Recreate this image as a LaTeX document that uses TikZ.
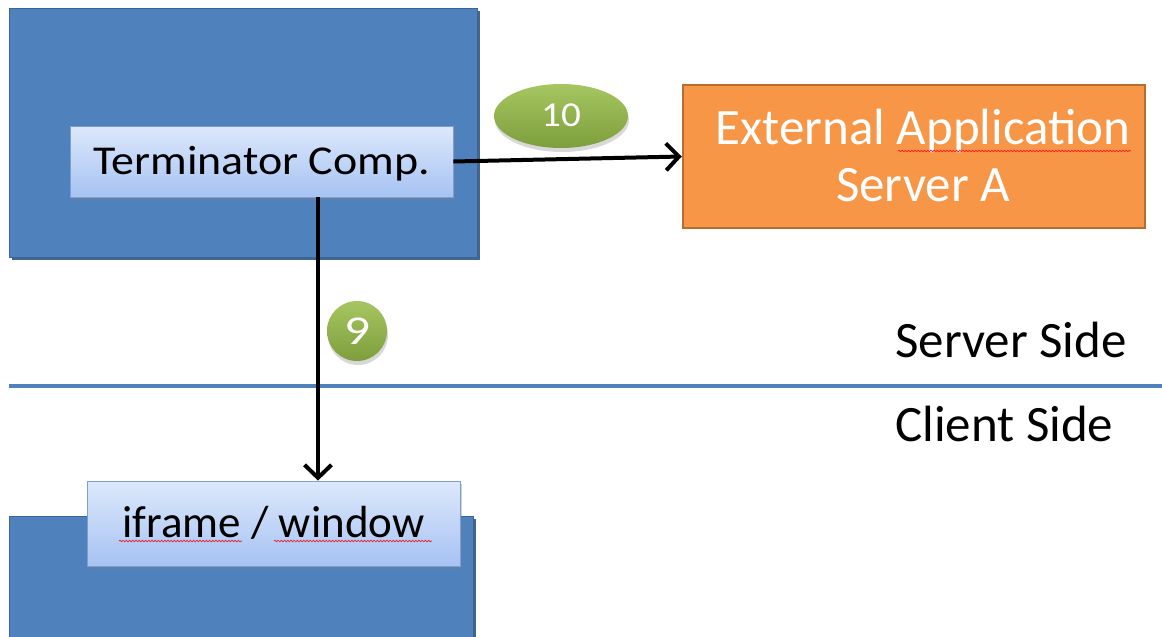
\documentclass[tikz,border=0pt]{standalone}
\usepackage{fontspec}
\setmainfont{Carlito}
\usetikzlibrary{arrows.meta,shadows,shapes.geometric,decorations.pathmorphing}

\definecolor{panelblue}{HTML}{4F81BD}
\definecolor{paneledge}{HTML}{3A6597}
\definecolor{paneldark}{HTML}{2F5582}
\definecolor{boxtop}{HTML}{DDE8FB}
\definecolor{boxbottom}{HTML}{A6C3F3}
\definecolor{boxedge}{HTML}{7C9FD0}
\definecolor{extfill}{HTML}{F79646}
\definecolor{extedge}{HTML}{B66D31}
\definecolor{greentop}{HTML}{A5C660}
\definecolor{greenbottom}{HTML}{7D9E3C}
\definecolor{spellred}{HTML}{E8202A}

\tikzset{
  panel/.style={rectangle, fill=panelblue, draw=paneledge, line width=1pt,
    inner sep=0pt, anchor=north west,
    drop shadow={shadow xshift=2.5pt, shadow yshift=-2.5pt, fill=paneldark, opacity=0.9}},
  compbox/.style={rectangle, top color=boxtop, bottom color=boxbottom,
    draw=boxedge, line width=0.8pt, inner sep=0pt, text=black,
    drop shadow={shadow xshift=2pt, shadow yshift=-3pt, opacity=0.35}},
  extbox/.style={rectangle, fill=extfill, draw=extedge, line width=2.5pt, inner sep=0pt},
  badge/.style={inner sep=0pt, text=white, top color=greentop, bottom color=greenbottom,
    drop shadow={shadow xshift=1pt, shadow yshift=-4pt, opacity=0.3}},
  flow/.style={line width=4pt, -{Straight Barb[length=13pt, width=27pt]}},
  sidelabel/.style={anchor=base west, inner sep=0pt, font=\fontsize{51}{60}\selectfont},
  spell/.style={spellred, line width=0.7pt, decorate,
    decoration={snake, amplitude=0.8pt, segment length=3.2pt}}
}

\begin{document}
\begin{tikzpicture}[x=1pt, y=-1pt]
  \useasboundingbox (0,0) rectangle (1162,637);
  \fill[white] (0,0) rectangle (1162,637);

  % server-side panel and client-side panel
  \node[panel, minimum width=468pt, minimum height=249pt] (toppanel) at (9,8) {};
  \node[panel, minimum width=464pt, minimum height=130pt] (botpanel) at (9,516) {};

  % divider between server and client side
  \coordinate (divL) at (9,386);
  \coordinate (divR) at (1162,386);
  \draw[panelblue, line width=4pt] (divL) -- (divR);

  \node[sidelabel] (server) at (895,357) {Server Side};
  \node[sidelabel] (client) at (895,441) {Client Side};

  % components
  \node[compbox, minimum width=383pt, minimum height=71pt,
        text height=26pt, text depth=0pt,
        font=\fontsize{41}{48}\selectfont] (term) at (261.5,161.5)
        {\scalebox{1.12}[1]{Terminator Comp.}};

  \node[compbox, minimum width=373pt, minimum height=85pt,
        text height=28pt, text depth=0pt,
        font=\fontsize{45}{50}\selectfont] (iframe) at (273.5,523.5) {iframe / window};

  \node[extbox, minimum width=462pt, minimum height=143pt] (ext) at (914,156.5) {};
  \node[align=center, text=white, inner sep=0pt,
        font=\fontsize{51}{57}\selectfont] (extlabel) at (923,155) {External Application\\Server A};

  % step badges
  \node[badge, ellipse, minimum width=134pt, minimum height=64pt,
        text height=21pt, text depth=0pt,
        font=\fontsize{35}{40}\selectfont] (s10) at (561,116) {\scalebox{1.12}[1]{10}};
  \node[badge, circle, minimum size=60pt,
        text height=26pt, text depth=0pt,
        font=\fontsize{41}{46}\selectfont] (s9) at (357,331) {\scalebox{1.25}[1]{9}};

  % message flow
  \draw[flow] (term.east) -- (ext.west);
  \draw[flow] ([xshift=56.5pt]term.south) -- ([xshift=44.5pt]iframe.north);

  % spell-check underlines
  \draw[spell] (898,151) -- (1131,151);
  \draw[spell] (119,541) -- (242,541);
  \draw[spell] (274,541) -- (432,541);
\end{tikzpicture}
\end{document}
